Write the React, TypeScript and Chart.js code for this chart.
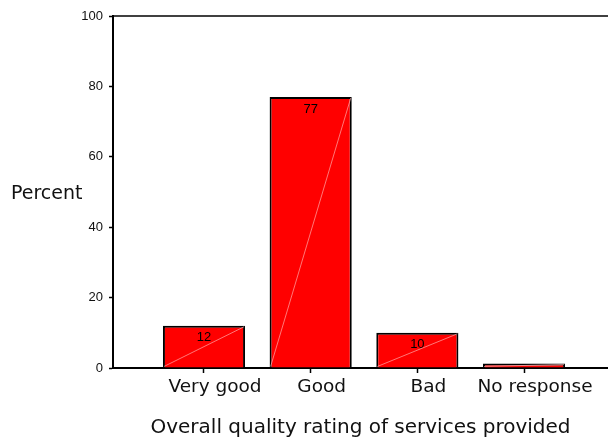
import React, { useEffect, useRef } from "react";
import { Chart, registerables } from "chart.js";

Chart.register(...registerables);

// Survey results: share of respondents per rating
const categories = ["Very good", "Good", "Bad", "No response"];
const percents = [12, 77, 10, 1.3];
const valueLabels = ["12", "77", "10", ""];
const yTicks = [0, 20, 40, 60, 80, 100];

const yTitle = "Percent";
const xTitle = "Overall quality rating of services provided";
const wideFont = "'DejaVu Sans', sans-serif";
const plainFont = "'Liberation Sans', Arial, sans-serif";

// Top frame line, horizontal y title, in-bar values and the faint diagonal stroke
const decorations = {
  id: "decorations",
  afterDatasetsDraw(chart: any) {
    const { ctx, chartArea } = chart;
    const meta = chart.getDatasetMeta(0);
    ctx.save();
    meta.data.forEach((bar: any, i: number) => {
      const { x, y, base, width } = bar.getProps(["x", "y", "base", "width"], true);
      ctx.strokeStyle = "rgba(255,190,190,0.9)";
      ctx.lineWidth = 0.7;
      ctx.beginPath();
      ctx.moveTo(x - width / 2 + 1, base - 1);
      ctx.lineTo(x + width / 2 - 1, y + 1);
      ctx.stroke();
      if (valueLabels[i]) {
        ctx.fillStyle = "#000";
        ctx.font = `13px ${plainFont}`;
        ctx.textAlign = "center";
        ctx.textBaseline = "middle";
        ctx.fillText(valueLabels[i], x, y + 12);
      }
    });
    ctx.strokeStyle = "#000";
    ctx.lineWidth = 1.5;
    ctx.beginPath();
    ctx.moveTo(chartArea.left, chartArea.top);
    ctx.lineTo(chartArea.right, chartArea.top);
    ctx.stroke();
    ctx.fillStyle = "#111";
    ctx.font = `19px ${wideFont}`;
    ctx.textAlign = "left";
    ctx.textBaseline = "middle";
    ctx.fillText(yTitle, 11, 194);
    ctx.restore();
  },
};

export default function App() {
  const ref = useRef<HTMLCanvasElement | null>(null);

  useEffect(() => {
    if (!ref.current) return;
    const chart = new Chart(ref.current, {
      type: "bar",
      data: {
        datasets: [
          {
            data: categories.map((_, i) => ({ x: i + 1, y: percents[i] })),
            backgroundColor: "#ff0000",
            borderColor: "#000",
            borderWidth: 2,
            barPercentage: 0.77,
            categoryPercentage: 1,
          },
        ],
      },
      options: {
        animation: false,
        responsive: false,
        devicePixelRatio: 1,
        layout: { padding: { top: 16, right: 0, left: 0, bottom: 0 } },
        plugins: { legend: { display: false }, tooltip: { enabled: false } },
        scales: {
          x: {
            type: "linear",
            min: 0.147,
            max: 4.787,
            offset: false,
            afterFit: (s: any) => {
              s.height = 72;
            },
            afterBuildTicks: (s: any) => {
              s.ticks = categories.map((_, i) => ({ value: i + 1 }));
            },
            grid: {
              offset: false,
              drawOnChartArea: false,
              drawTicks: true,
              tickLength: 5,
              tickWidth: 1.5,
              tickColor: "#000",
            },
            border: { display: true, color: "#000", width: 2 },
            ticks: {
              autoSkip: false,
              maxRotation: 0,
              labelOffset: 11,
              padding: 3,
              color: "#111",
              font: { family: wideFont, size: 18.5 },
              callback: (v: any) => categories[Number(v) - 1] ?? "",
            },
            title: {
              display: true,
              text: xTitle,
              color: "#111",
              font: { family: wideFont, size: 20 },
              padding: { top: 1, bottom: 0 },
            },
          },
          y: {
            min: 0,
            max: 100,
            afterFit: (s: any) => {
              s.width = 113;
            },
            afterBuildTicks: (s: any) => {
              s.ticks = yTicks.map((v) => ({ value: v }));
            },
            grid: {
              drawOnChartArea: false,
              drawTicks: true,
              tickLength: 4,
              tickWidth: 1.5,
              tickColor: "#000",
            },
            border: { display: true, color: "#000", width: 2 },
            ticks: {
              padding: 6,
              color: "#111",
              font: { family: plainFont, size: 13 },
            },
          },
        },
      },
      plugins: [decorations],
    });
    return () => chart.destroy();
  }, []);

  return (
    <div style={{ position: "fixed", left: 0, top: 0, width: 608, height: 440, background: "#fff" }}>
      <canvas ref={ref} width={608} height={440} style={{ width: 608, height: 440 }} />
    </div>
  );
}
